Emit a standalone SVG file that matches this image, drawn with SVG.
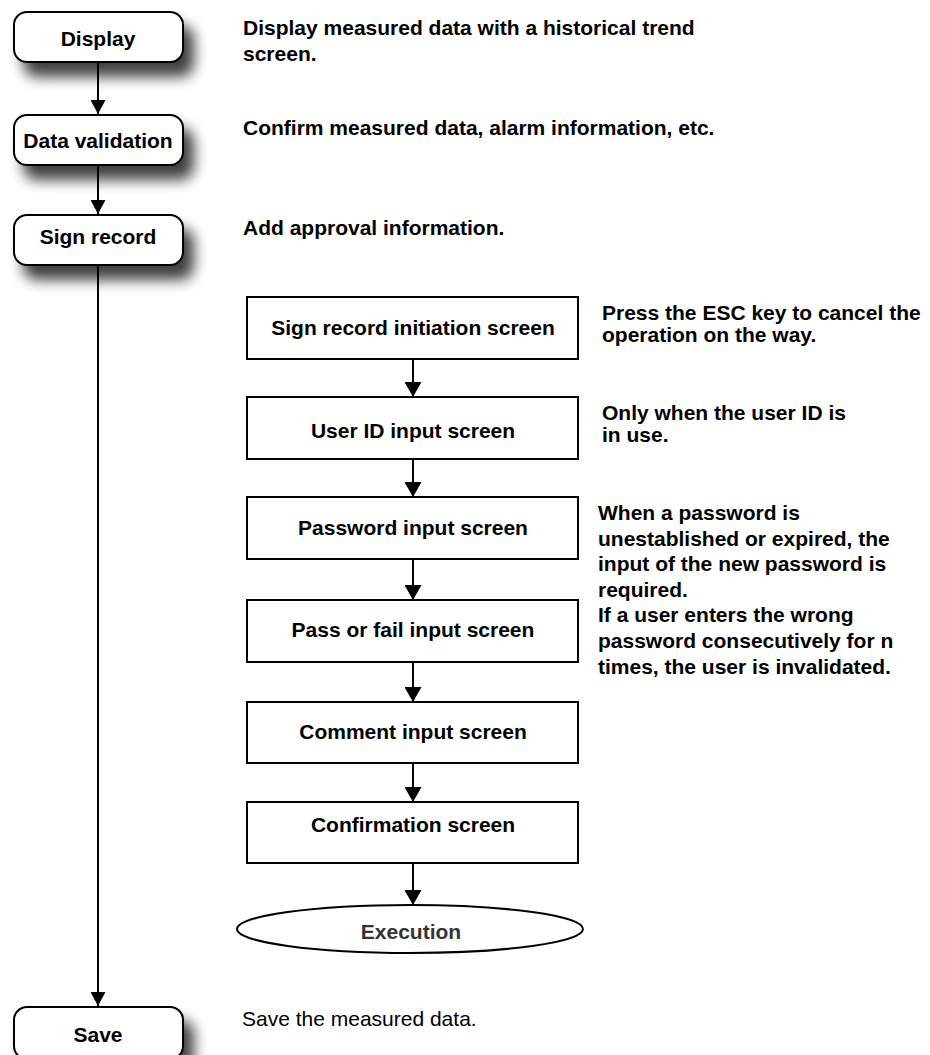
<svg xmlns="http://www.w3.org/2000/svg" width="930" height="1055" viewBox="0 0 930 1055">
<defs>
<filter id="sh" x="-30%" y="-40%" width="170%" height="220%">
<feGaussianBlur in="SourceAlpha" stdDeviation="7"/>
<feOffset dx="10" dy="14" result="b"/>
<feComponentTransfer><feFuncA type="linear" slope="0.75"/></feComponentTransfer>
<feMerge><feMergeNode/><feMergeNode in="SourceGraphic"/></feMerge>
</filter>
<marker id="ah" markerWidth="16" markerHeight="15" refX="14" refY="7.5" orient="auto" markerUnits="userSpaceOnUse">
<path d="M0,0 L14,7.5 L0,15 Z" fill="#000"/>
</marker>
<marker id="ah2" markerWidth="18" markerHeight="17" refX="15" refY="8.5" orient="auto" markerUnits="userSpaceOnUse">
<path d="M0,0 L15,8.5 L0,17 Z" fill="#000"/>
</marker>
</defs>
<style>
.rb{fill:#fff;stroke:#000;stroke-width:2}
.bx{fill:#fff;stroke:#000;stroke-width:2}
.t{font-family:"Liberation Sans",Arial,sans-serif;font-weight:bold;font-size:21px;fill:#000}
.c{text-anchor:middle}
.n{font-family:"Liberation Sans",Arial,sans-serif;font-size:21px;fill:#000}
.ln{stroke:#000;stroke-width:2;fill:none}
</style>
<g id="connectors">
<line class="ln" x1="98" y1="62" x2="98" y2="114" marker-end="url(#ah)"/>
<line class="ln" x1="98" y1="165" x2="98" y2="214" marker-end="url(#ah)"/>
<line class="ln" x1="98" y1="265" x2="98" y2="1006" marker-end="url(#ah)"/>
<line class="ln" x1="413" y1="359" x2="413" y2="397" marker-end="url(#ah2)"/>
<line class="ln" x1="413" y1="459" x2="413" y2="497" marker-end="url(#ah2)"/>
<line class="ln" x1="413" y1="559" x2="413" y2="600" marker-end="url(#ah2)"/>
<line class="ln" x1="413" y1="662" x2="413" y2="702" marker-end="url(#ah2)"/>
<line class="ln" x1="413" y1="763" x2="413" y2="802" marker-end="url(#ah2)"/>
<line class="ln" x1="413" y1="863" x2="413" y2="905" marker-end="url(#ah2)"/>
</g>
<g id="display">
<rect class="rb" x="14" y="12" width="169" height="50" rx="13" filter="url(#sh)"/>
<text class="t c" x="98" y="46">Display</text>
</g>
<g id="data-validation">
<rect class="rb" x="14" y="115" width="169" height="50" rx="13" filter="url(#sh)"/>
<text class="t c" x="98" y="148">Data validation</text>
</g>
<g id="sign-record">
<rect class="rb" x="14" y="215" width="169" height="50" rx="13" filter="url(#sh)"/>
<text class="t c" x="98" y="244">Sign record</text>
</g>
<g id="save">
<rect class="rb" x="14" y="1007" width="169" height="52" rx="13" filter="url(#sh)"/>
<text class="t c" x="98" y="1042">Save</text>
</g>
<g id="desc-display">
<text class="t" x="243" y="35">Display measured data with a historical trend</text>
<text class="t" x="243" y="61">screen.</text>
</g>
<g id="desc-validation">
<text class="t" x="243" y="135">Confirm measured data, alarm information, etc.</text>
</g>
<g id="desc-sign">
<text class="t" x="243" y="235">Add approval information.</text>
</g>
<g id="desc-save">
<text class="n" x="242" y="1026">Save the measured data.</text>
</g>
<g id="sign-init">
<rect class="bx" x="247" y="297" width="331" height="62"/>
<text class="t c" x="413" y="335">Sign record initiation screen</text>
</g>
<g id="user-id">
<rect class="bx" x="247" y="397" width="331" height="62"/>
<text class="t c" x="413" y="438">User ID input screen</text>
</g>
<g id="password">
<rect class="bx" x="247" y="497" width="331" height="62"/>
<text class="t c" x="413" y="535">Password input screen</text>
</g>
<g id="pass-fail">
<rect class="bx" x="247" y="600" width="331" height="62"/>
<text class="t c" x="413" y="637">Pass or fail input screen</text>
</g>
<g id="comment">
<rect class="bx" x="247" y="702" width="331" height="61"/>
<text class="t c" x="413" y="739">Comment input screen</text>
</g>
<g id="confirmation">
<rect class="bx" x="247" y="802" width="331" height="61"/>
<text class="t c" x="413" y="832">Confirmation screen</text>
</g>
<g id="execution">
<ellipse class="bx" cx="410" cy="929" rx="173" ry="24"/>
<text class="t c" x="411" y="939" style="fill:#333">Execution</text>
</g>
<g id="note-esc">
<text class="t" x="602" y="320">Press the ESC key to cancel the</text>
<text class="t" x="602" y="342">operation on the way.</text>
</g>
<g id="note-userid">
<text class="t" x="602" y="420">Only when the user ID is</text>
<text class="t" x="602" y="442">in use.</text>
</g>
<g id="note-password">
<text class="t" x="598" y="520">When a password is</text>
<text class="t" x="598" y="545.5">unestablished or expired, the</text>
<text class="t" x="598" y="571">input of the new password is</text>
<text class="t" x="598" y="596.5">required.</text>
<text class="t" x="598" y="622">If a user enters the wrong</text>
<text class="t" x="598" y="648">password consecutively for n</text>
<text class="t" x="598" y="674">times, the user is invalidated.</text>
</g>
</svg>
